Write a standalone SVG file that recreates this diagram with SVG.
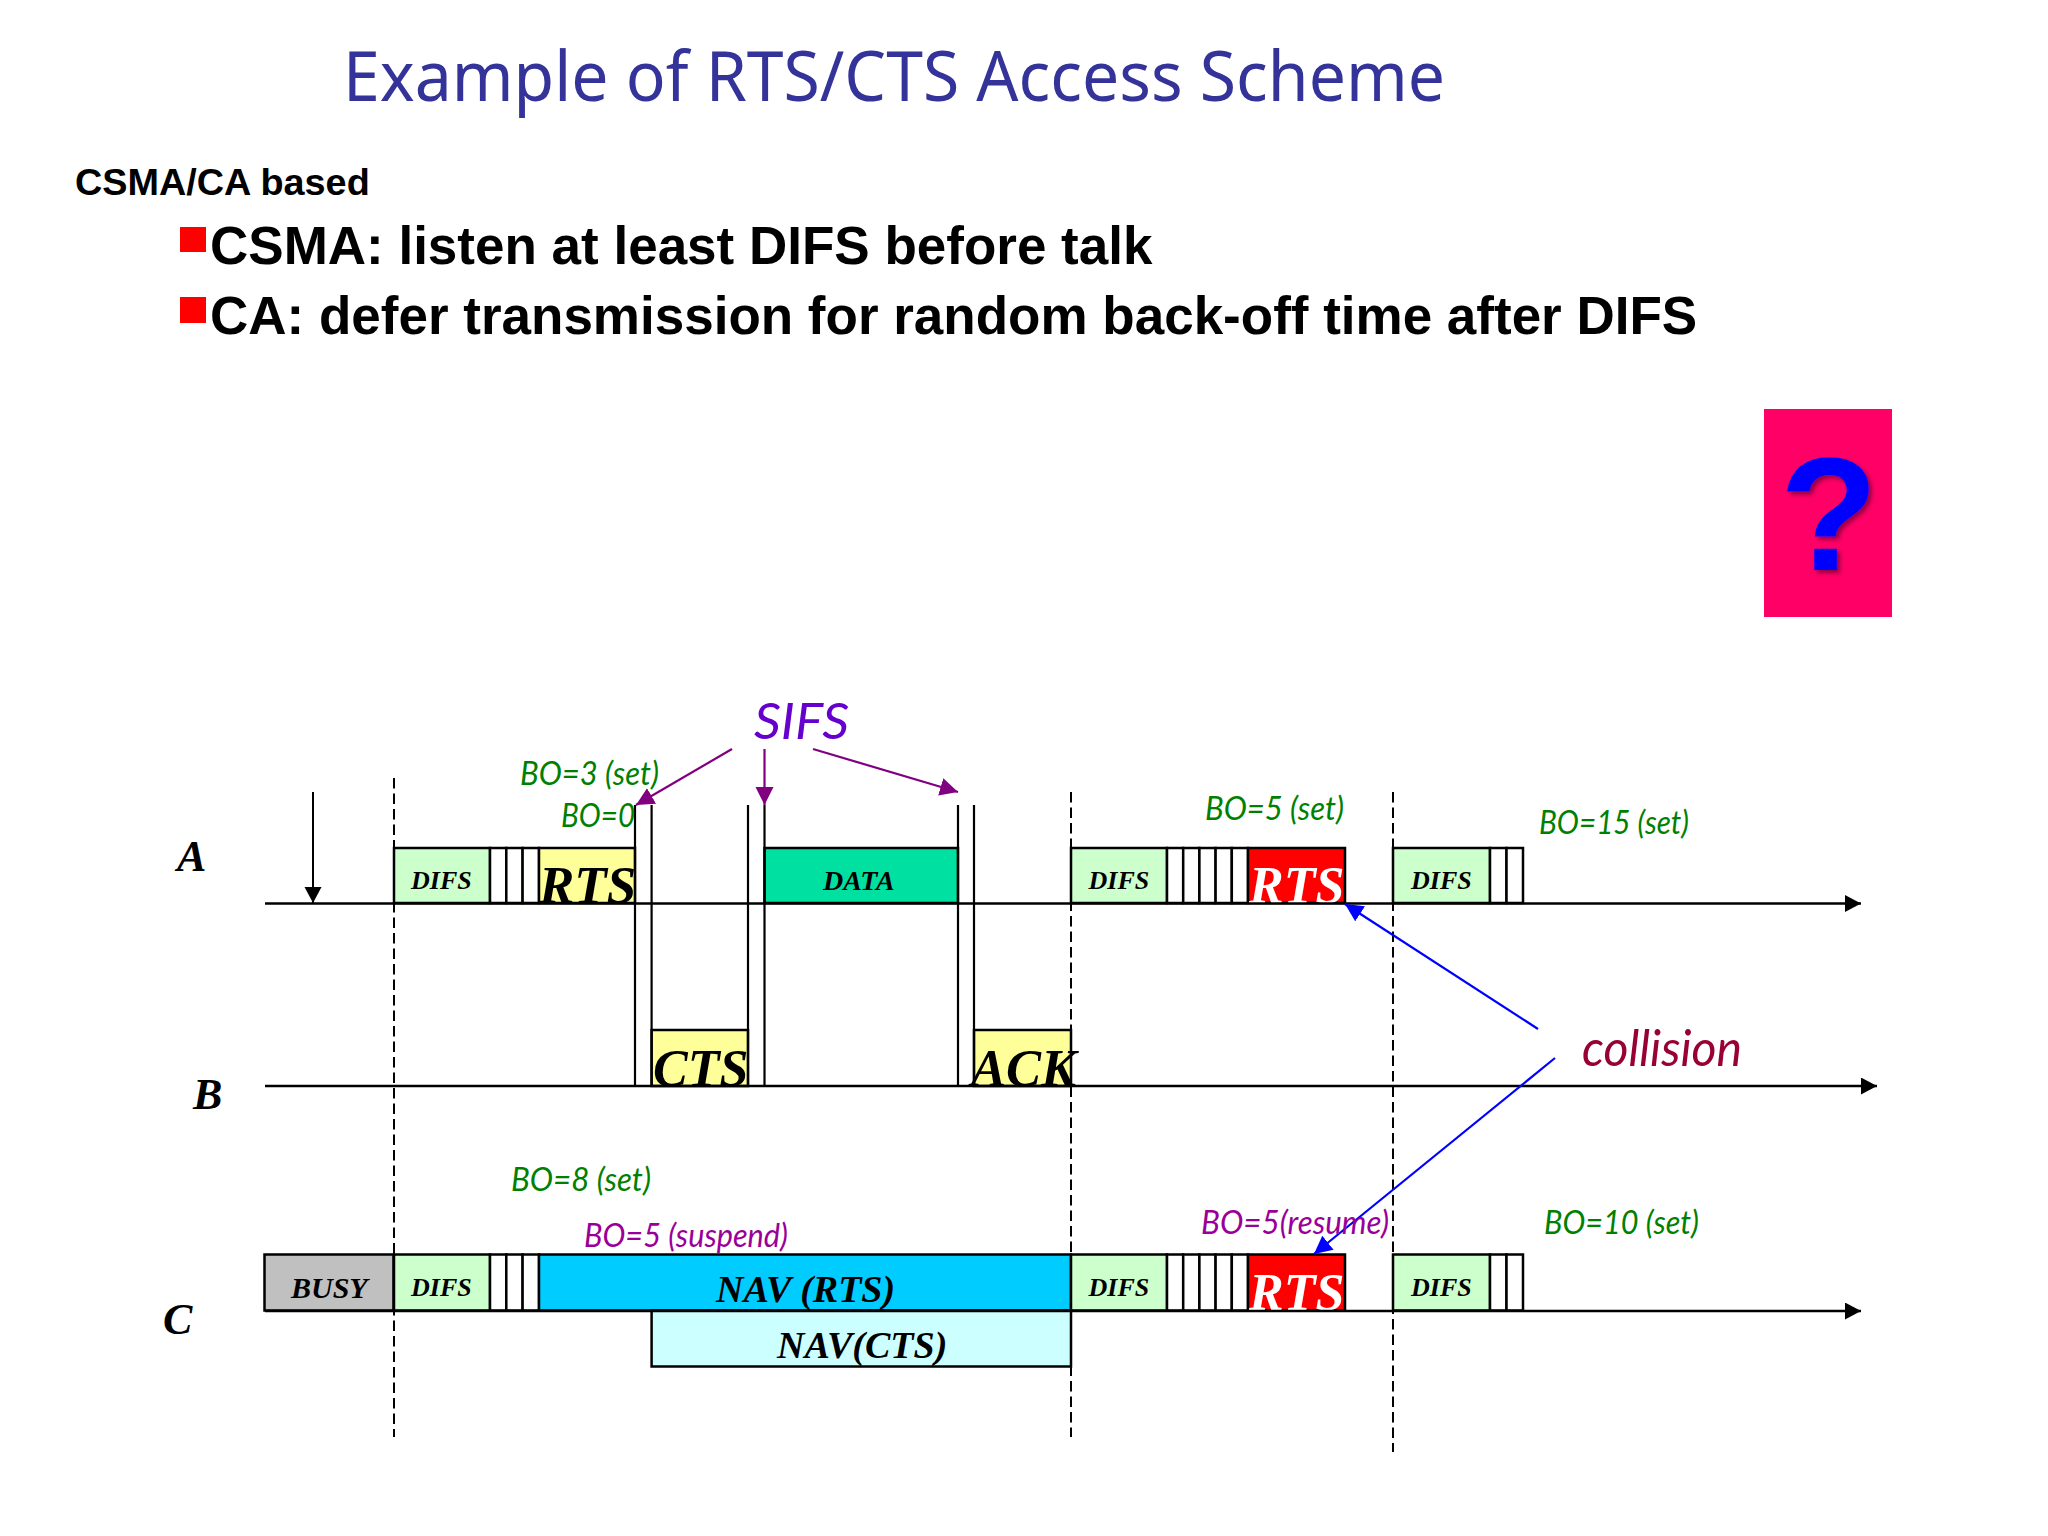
<svg xmlns="http://www.w3.org/2000/svg" width="2048" height="1536" viewBox="0 0 2048 1536">
<style>
.box{stroke:#000;stroke-width:2.5}
.t{font-family:"Liberation Serif",serif;font-weight:bold;font-style:italic;fill:#000}
.s{font-size:26px}
.b{font-size:52px}
.n{font-size:38px}
.h{font-family:"Lato","Noto Sans",sans-serif;font-style:italic;font-size:32px}
.g{fill:#008000}
.p{fill:#990099}
.a{font-family:"Liberation Sans",Arial,sans-serif;font-weight:bold;fill:#000}
.ax{stroke:#000;stroke-width:2.5;fill:none}
.v{stroke:#000;stroke-width:2.2;fill:none}
.d{stroke:#000;stroke-width:2;stroke-dasharray:10.5 5;fill:none}
.pu{stroke:#800080;stroke-width:2.2;fill:none}
.bl{stroke:#0000ff;stroke-width:2.2;fill:none}
</style>
<defs>
<marker id="mk" markerUnits="userSpaceOnUse" markerWidth="18" markerHeight="18" refX="16" refY="8.5" orient="auto"><path d="M0 0L16 8.5L0 17Z" fill="#000"/></marker>
<marker id="mp" markerUnits="userSpaceOnUse" markerWidth="20" markerHeight="20" refX="18" refY="9" orient="auto"><path d="M0 0L18 9L0 18Z" fill="#800080"/></marker>
<marker id="mb" markerUnits="userSpaceOnUse" markerWidth="20" markerHeight="20" refX="18" refY="9" orient="auto"><path d="M0 0L18 9L0 18Z" fill="#0000ff"/></marker>
<filter id="sh" x="-20%" y="-20%" width="140%" height="140%"><feDropShadow dx="3" dy="3" stdDeviation="2" flood-color="#660033" flood-opacity=".7"/></filter>
</defs>
<rect width="2048" height="1536" fill="#fff"/>
<g id="heading">
<text x="343" y="101" font-family="'Noto Sans','DejaVu Sans',sans-serif" font-size="69" fill="#333399" textLength="1102" lengthAdjust="spacingAndGlyphs">Example of RTS/CTS Access Scheme</text>
<text class="a" x="75" y="195" font-size="37.8">CSMA/CA based</text>
<rect x="180" y="227" width="26" height="25" fill="#ff0000"/>
<text class="a" x="210" y="264" font-size="53">CSMA: listen at least DIFS before talk</text>
<rect x="180" y="297" width="26" height="26" fill="#ff0000"/>
<text class="a" x="210" y="334" font-size="53">CA: defer transmission for random back-off time after DIFS</text>
</g>
<g id="question">
<rect x="1764" y="409" width="128" height="208" fill="#ff0066"/>
<text x="1829" y="570" text-anchor="middle" font-family="'Liberation Sans',sans-serif" font-weight="bold" font-size="161" fill="#0000ff" filter="url(#sh)">?</text>
</g>
<g id="row-a">
<g id="a-difs1"><rect class="box" x="394" y="848" width="96" height="55" fill="#ccffcc"/><text class="t s" x="411" y="889">DIFS</text></g>
<g id="a-slots1" class="box" fill="#fff"><rect x="490" y="848" width="16.3" height="55"/><rect x="506.3" y="848" width="16.3" height="55"/><rect x="522.6" y="848" width="16.4" height="55"/></g>
<g id="a-rts1"><rect class="box" x="539" y="848" width="96" height="55" fill="#ffff99"/><text class="t" font-size="53" x="539" y="903">RTS</text></g>
<g id="a-data"><rect class="box" x="764.5" y="848" width="193.5" height="55" fill="#00e0a0"/><text class="t" font-size="28" x="823" y="890">DATA</text></g>
<g id="a-difs2"><rect class="box" x="1071" y="848" width="96" height="55" fill="#ccffcc"/><text class="t s" x="1088.5" y="889">DIFS</text></g>
<g id="a-slots2" class="box" fill="#fff"><rect x="1167" y="848" width="16.2" height="55"/><rect x="1183.2" y="848" width="16.2" height="55"/><rect x="1199.4" y="848" width="16.2" height="55"/><rect x="1215.6" y="848" width="16.2" height="55"/><rect x="1231.8" y="848" width="16.2" height="55"/></g>
<g id="a-rts2"><rect class="box" x="1248" y="848" width="97" height="55" fill="#ff0000"/><text class="t b" x="1249" y="903" style="fill:#fff">RTS</text></g>
<g id="a-difs3"><rect class="box" x="1393" y="848" width="97" height="55" fill="#ccffcc"/><text class="t s" x="1411" y="889">DIFS</text></g>
<g id="a-slots3" class="box" fill="#fff"><rect x="1490" y="848" width="16.5" height="55"/><rect x="1506.5" y="848" width="16.5" height="55"/></g>
</g>
<g id="row-b">
<g id="b-cts"><rect class="box" x="651.6" y="1030" width="96.4" height="56" fill="#ffff99"/><text class="t b" x="653" y="1086">CTS</text></g>
<g id="b-ack"><rect class="box" x="974" y="1030" width="97" height="56" fill="#ffff99"/><text class="t" font-size="52.5" x="971" y="1086">ACK</text></g>
</g>
<g id="row-c">
<g id="c-busy"><rect class="box" x="264.5" y="1254.5" width="129" height="56" fill="#c0c0c0"/><text class="t" font-size="30" x="291" y="1298">BUSY</text></g>
<g id="c-difs1"><rect class="box" x="394" y="1254.5" width="96" height="56" fill="#ccffcc"/><text class="t s" x="411" y="1296">DIFS</text></g>
<g id="c-slots1" class="box" fill="#fff"><rect x="490" y="1254.5" width="16.3" height="56"/><rect x="506.3" y="1254.5" width="16.3" height="56"/><rect x="522.6" y="1254.5" width="16.4" height="56"/></g>
<g id="c-nav-rts"><rect class="box" x="539" y="1254.5" width="532" height="56" fill="#00ccff"/><text class="t n" x="716" y="1302">NAV (RTS)</text></g>
<g id="c-nav-cts"><rect class="box" x="651.6" y="1310.5" width="419.4" height="56" fill="#ccffff"/><text class="t n" x="777" y="1358">NAV(CTS)</text></g>
<g id="c-difs2"><rect class="box" x="1071" y="1254.5" width="96" height="56" fill="#ccffcc"/><text class="t s" x="1088.5" y="1296">DIFS</text></g>
<g id="c-slots2" class="box" fill="#fff"><rect x="1167" y="1254.5" width="16.2" height="56"/><rect x="1183.2" y="1254.5" width="16.2" height="56"/><rect x="1199.4" y="1254.5" width="16.2" height="56"/><rect x="1215.6" y="1254.5" width="16.2" height="56"/><rect x="1231.8" y="1254.5" width="16.2" height="56"/></g>
<g id="c-rts"><rect class="box" x="1248" y="1254.5" width="97" height="56" fill="#ff0000"/><text class="t b" x="1249" y="1310" style="fill:#fff">RTS</text></g>
<g id="c-difs3"><rect class="box" x="1393" y="1254.5" width="97" height="56" fill="#ccffcc"/><text class="t s" x="1411" y="1296">DIFS</text></g>
<g id="c-slots3" class="box" fill="#fff"><rect x="1490" y="1254.5" width="16.5" height="56"/><rect x="1506.5" y="1254.5" width="16.5" height="56"/></g>
</g>
<g id="connectors">
<path class="d" d="M394 778V1437"/>
<path class="d" d="M1071 792V1437"/>
<path class="d" d="M1393 792V1452"/>
<path class="ax" d="M265 903.5H1861" marker-end="url(#mk)"/>
<path class="ax" d="M265 1086H1877" marker-end="url(#mk)"/>
<path class="ax" d="M265 1311H1861" marker-end="url(#mk)"/>
<path class="ax" d="M313 792V903" marker-end="url(#mk)" style="stroke-width:2"/>
<path class="v" d="M635 805V1086M651.6 805V1086M748 805V1086M764.5 805V1086M958 805V1086M974 805V1086"/>
<path class="pu" d="M732 749L636 805" marker-end="url(#mp)"/>
<path class="pu" d="M764.5 749V805" marker-end="url(#mp)"/>
<path class="pu" d="M813 749L958 792" marker-end="url(#mp)"/>
<path class="bl" d="M1538 1029L1345 904" marker-end="url(#mb)"/>
<path class="bl" d="M1555 1058L1314 1254" marker-end="url(#mb)"/>
</g>
<g id="labels">
<text class="t" font-size="44" x="177" y="871">A</text>
<text class="t" font-size="44" x="193" y="1109">B</text>
<text class="t" font-size="44" x="163" y="1334">C</text>
<text class="h" x="754" y="739" style="font-size:50px;fill:#6600cc" textLength="95" lengthAdjust="spacingAndGlyphs">SIFS</text>
<text class="h g" x="520" y="785" textLength="139" lengthAdjust="spacingAndGlyphs">BO=3 (set)</text>
<text class="h g" x="561" y="827" textLength="74" lengthAdjust="spacingAndGlyphs">BO=0</text>
<text class="h g" x="1205" y="820" textLength="139" lengthAdjust="spacingAndGlyphs">BO=5 (set)</text>
<text class="h g" x="1539" y="834" textLength="150" lengthAdjust="spacingAndGlyphs">BO=15 (set)</text>
<text class="h p" x="1201" y="1234" textLength="188" lengthAdjust="spacingAndGlyphs">BO=5(resume)</text>
<text class="h g" x="1544" y="1234" textLength="155" lengthAdjust="spacingAndGlyphs">BO=10 (set)</text>
<text class="h g" x="511" y="1191" textLength="140" lengthAdjust="spacingAndGlyphs">BO=8 (set)</text>
<text class="h p" x="584" y="1247" textLength="204" lengthAdjust="spacingAndGlyphs">BO=5 (suspend)</text>
<text class="h" x="1582" y="1066" style="font-size:50px;fill:#990033" textLength="160" lengthAdjust="spacingAndGlyphs">collision</text>
</g>
</svg>
